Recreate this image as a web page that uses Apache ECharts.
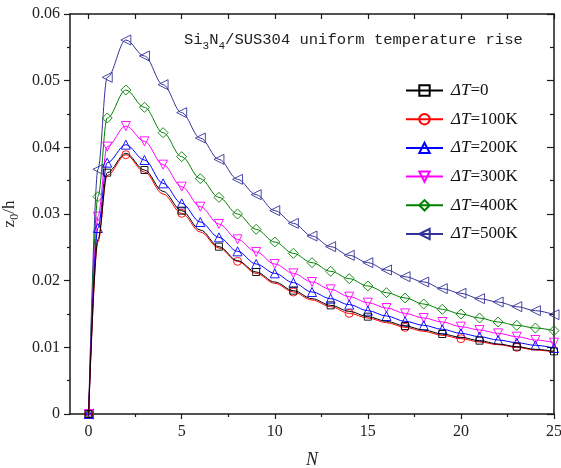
<!DOCTYPE html>
<html><head><meta charset="utf-8">
<script src="https://cdn.jsdelivr.net/npm/echarts@6/dist/echarts.min.js"></script>
<style>html,body{margin:0;padding:0;background:#fff}#c{width:561px;height:468px}</style>
</head><body><div id="c"></div>
<script>
// ---- data ----
const N = [0,0.5,1,2,3,4,5,6,7,8,9,10,11,12,13,14,15,16,17,18,19,20,21,22,23,24,25];
const dT0   = [0,0.0262,0.0362,0.0391,0.0366,0.0334,0.0305,0.0276,0.0251,0.0230,0.0213,0.0198,0.0185,0.0173,0.0163,0.0154,0.0146,0.0139,0.0132,0.0126,0.0120,0.0115,0.0110,0.0105,0.0101,0.0097,0.0094];
const dT100 = [0,0.0258,0.0358,0.0389,0.0363,0.0330,0.0301,0.0273,0.0249,0.0229,0.0211,0.0196,0.0183,0.0171,0.0161,0.0151,0.0144,0.0137,0.0130,0.0124,0.0118,0.0113,0.0108,0.0104,0.0100,0.0096,0.0093];
const dT200 = [0,0.0279,0.0377,0.0404,0.0381,0.0346,0.0316,0.0288,0.0265,0.0244,0.0225,0.0211,0.0197,0.0183,0.0173,0.0164,0.0155,0.0147,0.0139,0.0133,0.0127,0.0121,0.0116,0.0111,0.0107,0.0103,0.0099];
const dT300 = [0,0.0296,0.0401,0.0432,0.0409,0.0374,0.0341,0.0311,0.0285,0.0262,0.0243,0.0225,0.0211,0.0198,0.0187,0.0176,0.0167,0.0159,0.0151,0.0144,0.0138,0.0131,0.0126,0.0121,0.0116,0.0111,0.0107];
const dT400 = [0,0.0326,0.0444,0.0486,0.0460,0.0422,0.0386,0.0353,0.0325,0.0300,0.0277,0.0258,0.0241,0.0227,0.0214,0.0203,0.0192,0.0182,0.0174,0.0165,0.0157,0.0150,0.0144,0.0138,0.0133,0.0129,0.0125];
const dT500 = [0,0.0367,0.0505,0.0561,0.0537,0.0494,0.0452,0.0414,0.0382,0.0352,0.0329,0.0305,0.0286,0.0267,0.0251,0.0238,0.0227,0.0216,0.0206,0.0198,0.0188,0.0181,0.0173,0.0168,0.0161,0.0155,0.0149];
const seriesLabels = ['0','100K','200K','300K','400K','500K'];
const xTicks = [0,5,10,15,20,25];
const xMinorTicks = [2.5,7.5,12.5,17.5,22.5];
const xTopTicks = [0,2.5,5,7.5,10,12.5,15,17.5,20,22.5,25];
const yTicks = [0,0.01,0.02,0.03,0.04,0.05,0.06];

// ---- styles ----
const serif = 'Liberation Serif';
const styles = [
  {data: dT0,   color:'#000000', symbol:'rect',     size:7, rotate:0,   show:(n)=>n===0 || (Number.isInteger(n) && n%2===1)},
  {data: dT100, color:'#ff0000', symbol:'circle',   size:8, rotate:0,   show:(n)=>n===0 || (Number.isInteger(n) && n>=2 && (n-2)%3===0)},
  {data: dT200, color:'#0000ff', symbol:'triangle', size:9, rotate:0,   show:()=>true},
  {data: dT300, color:'#ff00ff', symbol:'triangle', size:9, rotate:180, show:()=>true},
  {data: dT400, color:'#008000', symbol:'diamond',  size:10, rotate:0,  show:()=>true},
  {data: dT500, color:'#333399', symbol:'triangle', size:10, rotate:90, show:()=>true}
];

const series = styles.map((s,i)=>({
  name: seriesLabels[i],
  type:'line',
  xAxisIndex:0, yAxisIndex:0,
  smooth:0.35, smoothMonotone:'x',
  symbol:s.symbol, symbolSize:s.size, symbolRotate:s.rotate,
  lineStyle:{color:s.color,width:1},
  itemStyle:{color:'rgba(255,255,255,0)',borderColor:s.color,borderWidth:0.9},
  data: N.map((n,k)=> s.show(n) ? [n, s.data[k]] : {value:[n, s.data[k]], symbol:'none'}),
  z: 10-i
}));

const axisLine = {show:true, onZero:false, lineStyle:{color:'#1a1a1a', width:1.5}};

const chart = echarts.init(document.getElementById('c'), null, {renderer:'canvas'});
chart.setOption({
  animation:false,
  backgroundColor:'#fff',
  grid:{left:70, right:7, top:14, bottom:54, containLabel:false, outerBoundsMode:'none'},
  title:{
    text:'{a|Si}{b|3}{a|N}{b|4}{a|/SUS304 uniform temperature rise}',
    left:179, top:27,
    textStyle:{fontWeight:'normal', rich:{
      a:{fontFamily:'Liberation Mono', fontWeight:'normal', fontSize:15.5, color:'#222', lineHeight:20, verticalAlign:'top'},
      b:{fontFamily:'Liberation Mono', fontWeight:'normal', fontSize:11, color:'#222', lineHeight:20, verticalAlign:'top', padding:[9,0,0,0]}
    }}
  },
  legend:{
    orient:'vertical', left:400, top:77,
    itemWidth:37, itemHeight:13, itemGap:11.7,
    data: seriesLabels,
    formatter:(name)=>'{i|ΔT}{n|=' + name + '}',
    textStyle:{padding:[0,0,0,3], rich:{
      i:{fontFamily:serif, fontStyle:'italic', fontSize:17, color:'#111'},
      n:{fontFamily:serif, fontSize:17, color:'#111'}
    }}
  },
  xAxis:[
    {type:'value', position:'bottom', min:-1, max:25,
     axisLine:axisLine, splitLine:{show:false},
     axisTick:{show:true, customValues:xTicks, length:5, inside:false, lineStyle:{color:'#1a1a1a',width:1.2}},
     axisLabel:{show:true, customValues:xTicks, margin:10, fontFamily:serif, fontSize:16, color:'#222'},
     name:'N', nameLocation:'middle', nameGap:37,
     nameTextStyle:{fontFamily:serif, fontStyle:'italic', fontSize:18, color:'#222'}},
    {type:'value', position:'bottom', min:-1, max:25,
     axisLine:{show:false, onZero:false}, splitLine:{show:false},
     axisTick:{show:true, customValues:xMinorTicks, length:3, inside:false, lineStyle:{color:'#1a1a1a',width:1.2}},
     axisLabel:{show:false}},
    {type:'value', position:'top', min:-1, max:25,
     axisLine:axisLine, splitLine:{show:false},
     axisTick:{show:true, customValues:xTopTicks, length:5, inside:true, lineStyle:{color:'#1a1a1a',width:1.2}},
     axisLabel:{show:false}}
  ],
  yAxis:[
    {type:'value', position:'left', min:yTicks[0], max:yTicks[yTicks.length-1], interval:0.01,
     axisLine:axisLine, splitLine:{show:false},
     axisTick:{show:true, length:6, inside:false, lineStyle:{color:'#1a1a1a',width:1.2}},
     minorTick:{show:true, splitNumber:2, length:3, lineStyle:{color:'#1a1a1a',width:1.2}},
     axisLabel:{margin:10, fontFamily:serif, fontSize:16, color:'#222',
       formatter:(v)=> v===0 ? '0' : v.toFixed(2)},
     name:'{n|z}{s|0}{n|/h}', nameLocation:'middle', nameGap:47,
     nameTextStyle:{rich:{
       n:{fontFamily:serif, fontSize:17, color:'#222', lineHeight:20, verticalAlign:'top'},
       s:{fontFamily:serif, fontSize:12, color:'#222', lineHeight:20, verticalAlign:'top', padding:[8,0,0,0]}
     }}},
    {type:'value', position:'right', min:yTicks[0], max:yTicks[yTicks.length-1], interval:0.01,
     axisLine:axisLine, splitLine:{show:false},
     axisTick:{show:true, length:7, inside:true, lineStyle:{color:'#1a1a1a',width:1.2}},
     minorTick:{show:true, splitNumber:2, length:4, lineStyle:{color:'#1a1a1a',width:1.2}},
     axisLabel:{show:false}}
  ],
  series: series
});
</script></body></html>
